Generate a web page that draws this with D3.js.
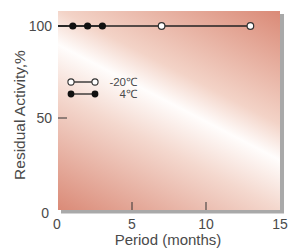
<!DOCTYPE html>
<html>
<head>
<meta charset="utf-8">
<script src="https://cdn.jsdelivr.net/npm/d3@7"></script>
<style>
  body { margin: 0; background: #fff; }
  svg text { font-family: "Liberation Sans", Arial, sans-serif; fill: #4a4a4a; }
</style>
</head>
<body>
<svg id="chart" width="290" height="248"></svg>
<script>
// data
const coldMonths = [0, 7, 13];      // -20C, first point sits on the axis
const coldValues = [100, 100, 100];
const coldMarked = [7, 13];
const warmMonths = [0, 1, 2, 3];    // 4C
const warmValues = [100, 100, 100, 100];
const warmMarked = [1, 2, 3];
const xTicks = [0, 5, 10, 15];
const yTicks = [0, 50, 100];

const svg = d3.select("#chart");

const x = d3.scaleLinear().domain([0, 15]).range([58, 280]);
const y = d3.scaleLinear().domain([0, 100]).range([210, 26]);
const plotTop = 11;

// background gradient, white streak running down to the right
const defs = svg.append("defs");
const grad = defs.append("linearGradient")
  .attr("id", "bg")
  .attr("gradientUnits", "userSpaceOnUse")
  .attr("x1", 101).attr("y1", 233)
  .attr("x2", 230).attr("y2", -15);
grad.append("stop").attr("offset", 0).attr("stop-color", "#da8a77");
grad.append("stop").attr("offset", 0.37).attr("stop-color", "#f4d8ce");
grad.append("stop").attr("offset", 0.527).attr("stop-color", "#fffdfc");
grad.append("stop").attr("offset", 0.64).attr("stop-color", "#f3d3c7");
grad.append("stop").attr("offset", 1).attr("stop-color", "#da8a77");

// shadow then plot box
svg.append("rect")
  .attr("x", x(0) + 3).attr("y", plotTop + 3)
  .attr("width", x(15) - x(0) + 1).attr("height", y(0) - plotTop + 0.5)
  .attr("fill", "#a9a9a9");
svg.append("rect")
  .attr("x", x(0)).attr("y", plotTop)
  .attr("width", x(15) - x(0)).attr("height", y(0) - plotTop)
  .attr("fill", "url(#bg)");

// ticks inside the box
svg.append("g").selectAll("line")
  .data(xTicks.filter(function(d) { return d > 0 && d < 15; }))
  .enter().append("line")
  .attr("x1", function(d) { return x(d); }).attr("x2", function(d) { return x(d); })
  .attr("y1", y(0)).attr("y2", y(0) - 8)
  .attr("stroke", "#333").attr("stroke-width", 1);

svg.append("g").selectAll("line")
  .data(yTicks.filter(function(d) { return d > 0; }))
  .enter().append("line")
  .attr("x1", x(0)).attr("x2", x(0) + 9)
  .attr("y1", function(d) { return y(d); }).attr("y2", function(d) { return y(d); })
  .attr("stroke", "#333").attr("stroke-width", 1);

// tick labels
svg.append("g").selectAll("text")
  .data(xTicks)
  .enter().append("text")
  .attr("x", function(d) { return x(d) - (d === 0 ? 1 : 0); })
  .attr("y", 229)
  .attr("text-anchor", "middle")
  .attr("font-size", 14)
  .text(function(d) { return d; });

svg.append("g").selectAll("text")
  .data(yTicks)
  .enter().append("text")
  .attr("x", function(d) { return d === 0 ? 49 : 52; })
  .attr("y", function(d) { return y(d) + (d === 0 ? 8 : 5); })
  .attr("text-anchor", "end")
  .attr("font-size", 14)
  .text(function(d) { return d; });

// axis titles
svg.append("text")
  .attr("x", 168).attr("y", 245)
  .attr("text-anchor", "middle")
  .attr("font-size", 15)
  .text("Period (months)");

svg.append("text")
  .attr("transform", "translate(25,115) rotate(-90)")
  .attr("text-anchor", "middle")
  .attr("font-size", 15.5)
  .text("Residual Activity,%");

// series lines
const line = d3.line()
  .x(function(d) { return x(d[0]); })
  .y(function(d) { return y(d[1]); });

svg.append("path")
  .datum(d3.zip(coldMonths, coldValues))
  .attr("d", line)
  .attr("fill", "none").attr("stroke", "#222").attr("stroke-width", 1.3);
svg.append("path")
  .datum(d3.zip(warmMonths, warmValues))
  .attr("d", line)
  .attr("fill", "none").attr("stroke", "#222").attr("stroke-width", 1.3);

// markers
svg.append("g").selectAll("circle")
  .data(d3.zip(coldMonths, coldValues).filter(function(d) { return coldMarked.includes(d[0]); }))
  .enter().append("circle")
  .attr("cx", function(d) { return x(d[0]); })
  .attr("cy", function(d) { return y(d[1]); })
  .attr("r", 3.3)
  .attr("fill", "#fff").attr("stroke", "#333").attr("stroke-width", 1.2);

svg.append("g").selectAll("circle")
  .data(d3.zip(warmMonths, warmValues).filter(function(d) { return warmMarked.includes(d[0]); }))
  .enter().append("circle")
  .attr("cx", function(d) { return x(d[0]); })
  .attr("cy", function(d) { return y(d[1]); })
  .attr("r", 3.6)
  .attr("fill", "#111");

// legend
const legend = [
  { label: "-20\u2103", open: true, y: 82 },
  { label: "4\u2103", open: false, y: 94 }
];
const lg = svg.append("g").selectAll("g").data(legend).enter().append("g");
lg.append("line")
  .attr("x1", 71).attr("x2", 95)
  .attr("y1", function(d) { return d.y; }).attr("y2", function(d) { return d.y; })
  .attr("stroke", "#222").attr("stroke-width", 1.3);
lg.selectAll("circle")
  .data(function(d) { return [[71, d], [95, d]]; })
  .enter().append("circle")
  .attr("cx", function(c) { return c[0]; })
  .attr("cy", function(c) { return c[1].y; })
  .attr("r", function(c) { return c[1].open ? 3.1 : 3.4; })
  .attr("fill", function(c) { return c[1].open ? "#fff" : "#111"; })
  .attr("stroke", function(c) { return c[1].open ? "#333" : "none"; })
  .attr("stroke-width", 1.1);
lg.append("text")
  .attr("x", 137)
  .attr("y", function(d) { return d.y + 4; })
  .attr("text-anchor", "end")
  .attr("font-size", 11.5)
  .attr("fill", "#4a4a4a")
  .text(function(d) { return d.label; });
</script>
</body>
</html>
